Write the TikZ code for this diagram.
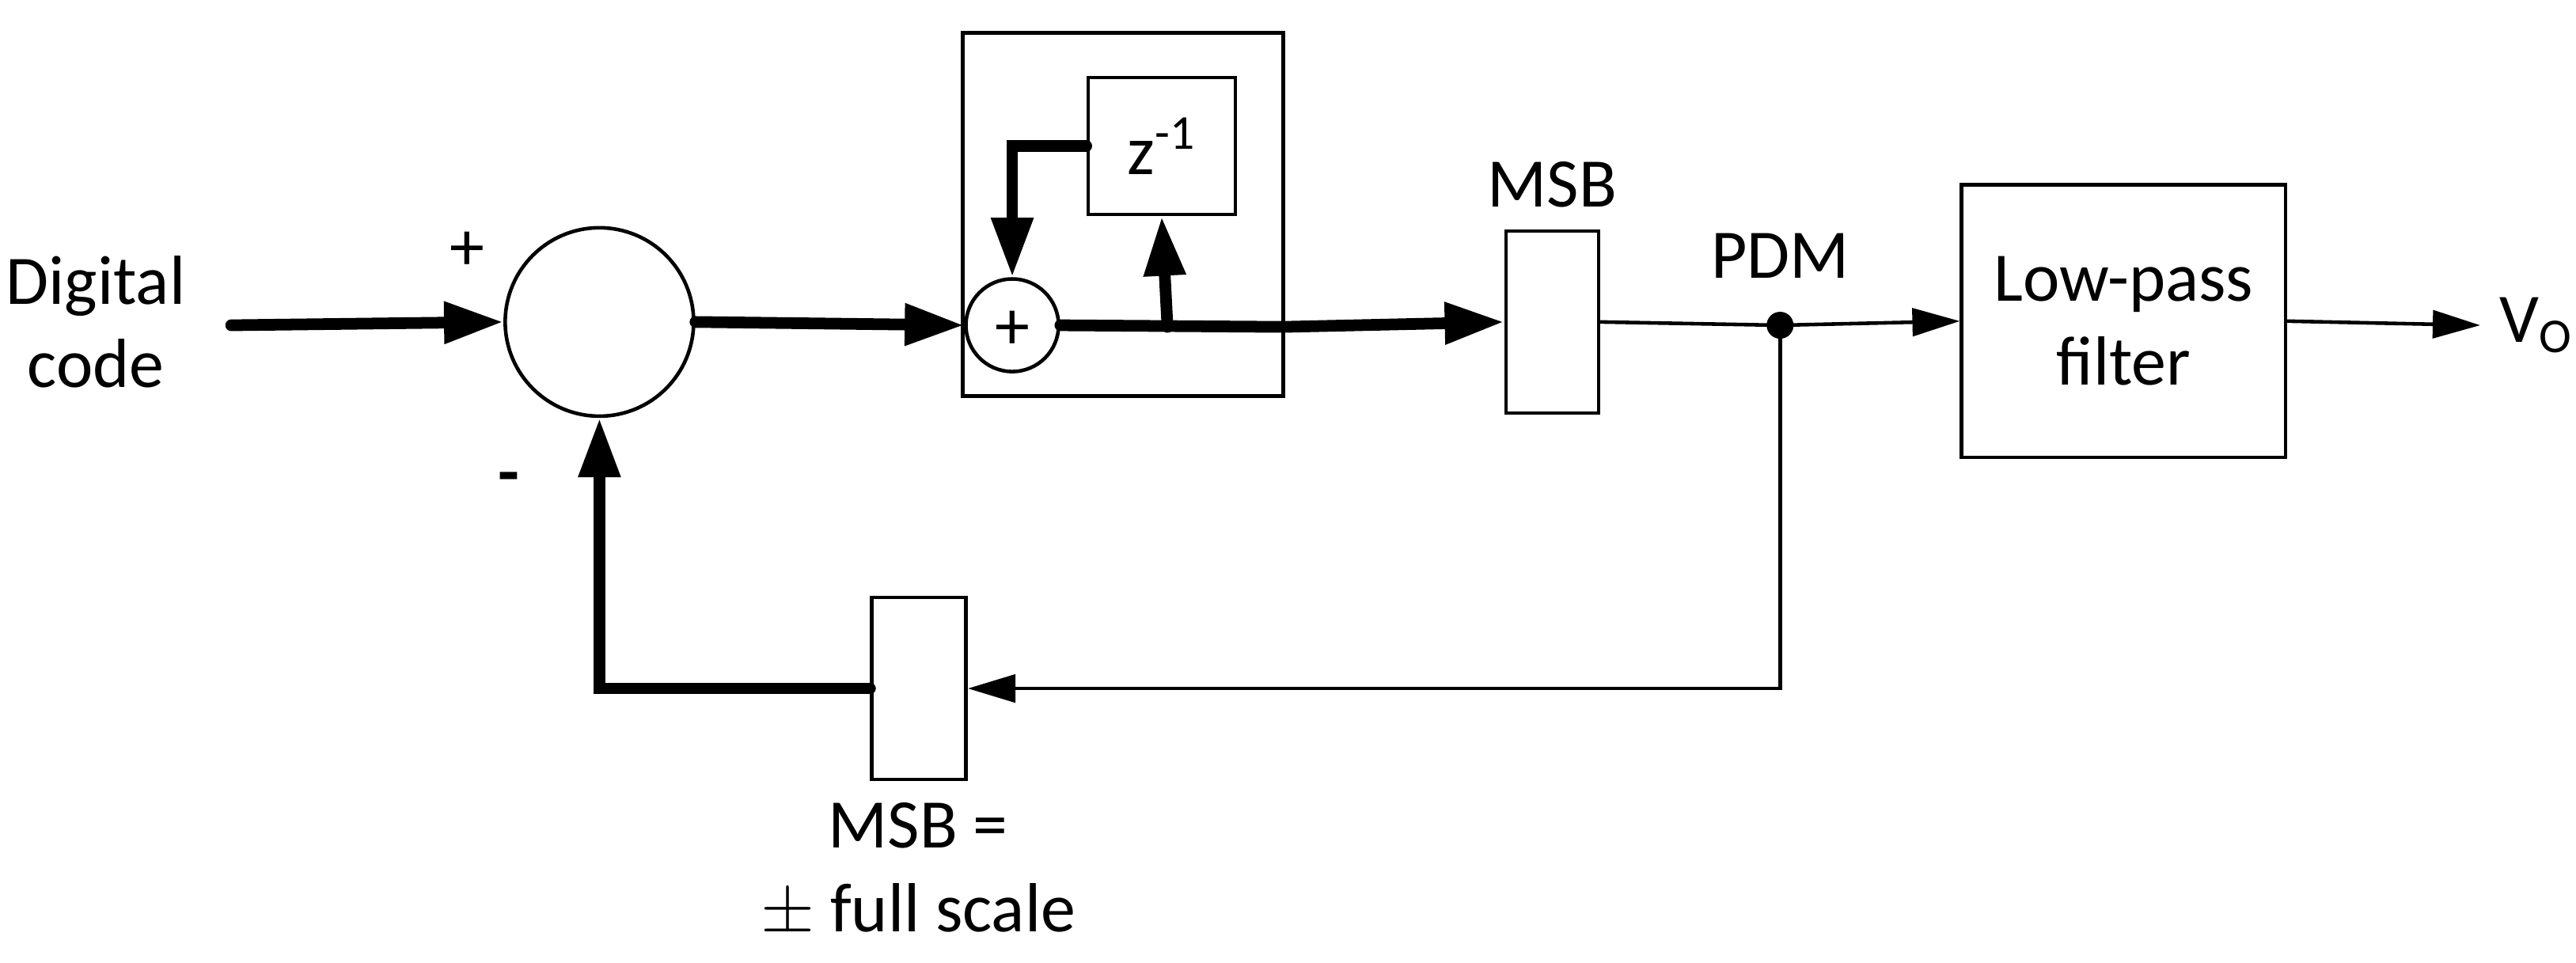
\documentclass[tikz,border=0pt]{standalone}
\usepackage{fontspec}
\setmainfont{Carlito}
\usetikzlibrary{arrows.meta}
\begin{document}
\begin{tikzpicture}[x=0.020865cm,y=-0.020865cm,
  thk/.style={line width=4.2pt,line cap=round},
  thn/.style={line width=1.3pt},
  bx/.style={draw,line width=1.3pt},
  tA/.style={-{Triangle[length=0.75cm,width=0.5cm]}},
  nA/.style={-{Triangle[length=0.6cm,width=0.35cm]}},
  lbl/.style={font=\fontsize{25}{30}\selectfont}]
\useasboundingbox (0,0) rectangle (1560,583);
\node[lbl,align=center] (dc) at (58,195) {Digital\\code};
\coordinate (in) at (140,197);
\node[bx,circle,minimum size=2.38cm,inner sep=0] (sum) at (363,195) {};
\node[lbl] (plus) at (283,152) {+};
\node[lbl] (minus) at (308,293) {\textbf{-}};
\draw[bx] (583,20) rectangle (777,240);
\node[bx,minimum width=1.86cm,minimum height=1.73cm] (z) at (703.5,88.5) {};
\node[lbl] at (703.5,88.5) {z\textsuperscript{-1}};
\node[bx,circle,minimum size=1.17cm,inner sep=0] (add) at (613,197) {};
\node[lbl] at (613,200) {+};
\node[bx,minimum width=1.17cm,minimum height=2.3cm] (msb) at (940,195) {};
\node[lbl] at (940,112) {MSB};
\coordinate (dot) at (1078,197);
\fill (dot) circle (0.17cm);
\node[lbl] at (1078,155) {PDM};
\node[bx,minimum width=4.09cm,minimum height=3.44cm,lbl,align=center] (lpf) at (1286,194.5) {Low-pass\\filter};
\coordinate (out) at (1502,197);
\node[lbl,anchor=west] (vo) at (1508,197) {V\textsubscript{O}};
\node[bx,minimum width=1.19cm,minimum height=2.3cm] (msb2) at (556.5,417) {};
\node[lbl,align=center] at (556,527) {MSB =\\$\pm$ full scale};
% connectors
\draw[thk,tA] (in) -- (sum.west);
\draw[thk,tA] (sum.east) -- (add.west);
\draw[thk,tA] (z.west) -| (add.north);
\draw[thk] (add.east) -- (777,198);
\draw[thk,tA] (777,198) -- (msb.west);
\draw[thk,tA] (707,198) -- (z.south);
\draw[thn] (msb.east) -- (dot);
\draw[thn,nA] (dot) -- (lpf.west);
\draw[thn,nA] (lpf.east) -- (out);
\draw[thn,nA] (dot) |- (msb2.east);
\draw[thk,tA] (msb2.west) -| (sum.south);
\end{tikzpicture}
\end{document}
